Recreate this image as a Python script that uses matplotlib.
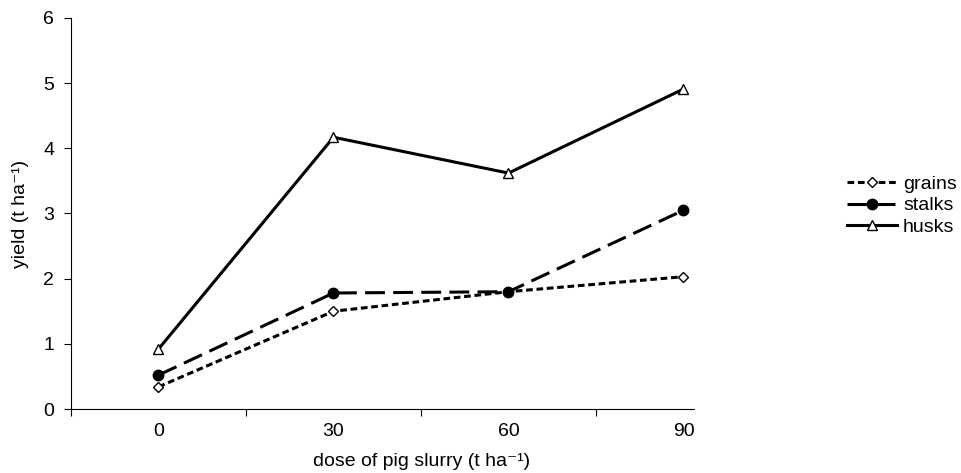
import matplotlib
matplotlib.use("Agg")
import matplotlib.pyplot as plt

# doses of pig slurry (t/ha) and yields (t/ha)
doses = ['0', '30', '60', '90']
grains = [0.34, 1.50, 1.80, 2.03]
stalks = [0.52, 1.78, 1.80, 3.05]
husks = [0.92, 4.17, 3.62, 4.91]

plt.rcParams['font.family'] = ['Liberation Sans', 'DejaVu Sans']

fig = plt.figure(figsize=(9.62, 4.73), dpi=100)
ax = fig.add_axes([0.0738, 0.1353, 0.6476, 0.8267])

x = list(range(len(doses)))
ax.plot(x, grains, color='black', lw=2.2, ls=(0, (2.2, 1.2)),
        marker='D', ms=5.5, mfc='white', mec='black', mew=1.0, label='grains')
ax.plot(x, stalks, color='black', lw=2.2, ls=(0, (6.5, 2.7)),
        marker='o', ms=7.5, mfc='black', mec='black', label='stalks')
ax.plot(x, husks, color='black', lw=2.2, ls='-',
        marker='^', ms=7.5, mfc='white', mec='black', mew=1.0, label='husks')

ax.set_xlim(-0.5, 3.06)
ax.set_ylim(0, 6)
ax.set_yticks(range(0, 7))
ax.set_xticks(x)
ax.set_xticklabels(doses)
ax.set_xticks([-0.5, 0.5, 1.5, 2.5], minor=True)
ax.tick_params(axis='x', which='major', length=0, pad=10, labelsize=14)
ax.tick_params(axis='x', which='minor', length=5, width=0.8, direction='out')
ax.tick_params(axis='y', length=5, width=0.8, direction='out', labelsize=14, pad=7)

for s in ['top', 'right']:
    ax.spines[s].set_visible(False)
for s in ['left', 'bottom']:
    ax.spines[s].set_linewidth(0.8)

ax.set_xlabel('dose of pig slurry (t ha\u207b\u00b9)', fontsize=14)
ax.xaxis.set_label_coords(0.562, -0.112)
ax.set_ylabel('yield (t ha\u207b\u00b9)', fontsize=14, labelpad=10)

ax.legend(loc='center left', bbox_to_anchor=(1.245, 0.52), frameon=False,
          fontsize=14, handlelength=2.6, handletextpad=0.3, labelspacing=0.2,
          borderaxespad=0, borderpad=0)

fig.savefig('out.png', dpi=100)
